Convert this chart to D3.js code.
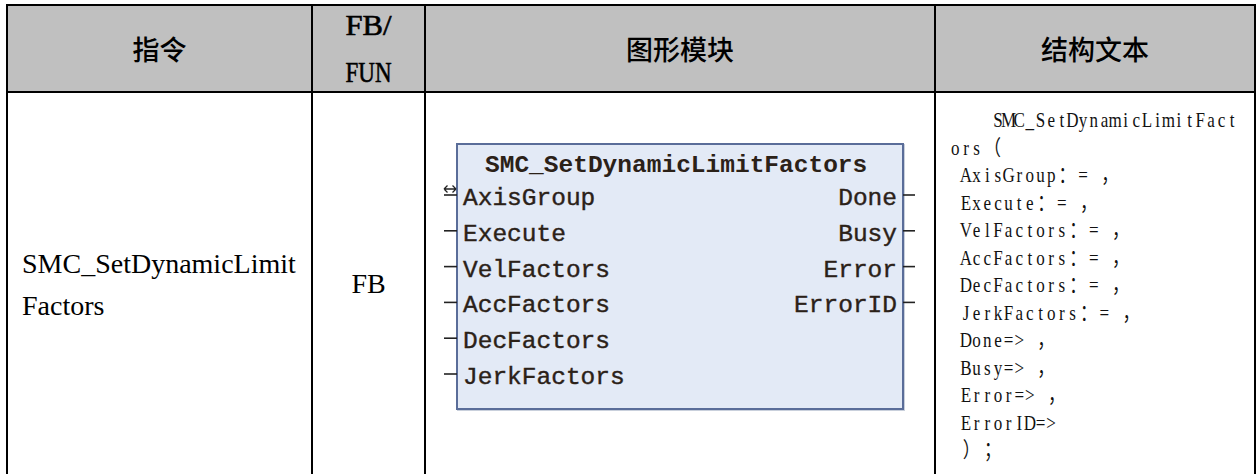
<!DOCTYPE html>
<html>
<head>
<meta charset="utf-8">
<script src="https://cdn.jsdelivr.net/npm/d3@7"></script>
<style>
  html, body { margin: 0; padding: 0; background: #ffffff; }
  svg { display: block; }
  .pre { white-space: pre; }
</style>
</head>
<body>
<div id="chart"></div>
<script>
// ---------- data ----------
const headerLabels = ["指令", "FB/|FUN", "图形模块", "结构文本"];
const instructionLines = ["SMC_SetDynamicLimit", "Factors"];
const fbType = ["FB"];
const blockTitle = ["SMC_SetDynamicLimitFactors"];
const blockInputs = ["AxisGroup", "Execute", "VelFactors", "AccFactors", "DecFactors", "JerkFactors"];
const blockOutputs = ["Done", "Busy", "Error", "ErrorID"];
const stLines = [
  "    SMC_SetDynamicLimitFact",
  "ors（",
  " AxisGroup：= ，",
  " Execute：= ，",
  " VelFactors：= ，",
  " AccFactors：= ，",
  " DecFactors：= ，",
  " JerkFactors：= ，",
  " Done=> ，",
  " Busy=> ，",
  " Error=> ，",
  " ErrorID=>",
  " ）；"
];

// ---------- layout ----------
const W = 1257, H = 474;
const colEdges = [7, 312, 425, 935, 1255];
const tableTop = 5, headerBottom = 92;

const svg = d3.select("#chart").append("svg")
  .attr("width", W).attr("height", H);

const colX = d3.scaleOrdinal().domain(d3.range(colEdges.length)).range(colEdges);
const colCenter = i => (colX(i) + colX(i + 1)) / 2;

// header background
svg.append("rect")
  .attr("x", colX(0)).attr("y", tableTop)
  .attr("width", colX(4) - colX(0)).attr("height", headerBottom - tableTop)
  .attr("fill", "#c0c0c0");

// header texts
headerLabels.forEach((lab, i) => {
  if (lab.includes("|")) {
    const parts = lab.split("|");
    const yb = d3.scaleLinear().domain([0, 1]).range([35, 82]);
    svg.selectAll(null).data(parts).enter().append("text")
      .attr("x", colCenter(i)).attr("y", (d, k) => yb(k))
      .attr("text-anchor", "middle")
      .attr("font-family", "'Liberation Serif', 'Times New Roman', serif")
      .attr("font-size", 29)
      .attr("stroke", "#000").attr("stroke-width", 0.6)
      .attr("textLength", 46).attr("lengthAdjust", "spacingAndGlyphs")
      .attr("fill", "#000")
      .text(d => d);
  } else {
    svg.append("text")
      .attr("x", colCenter(i)).attr("y", 60)
      .attr("text-anchor", "middle")
      .attr("font-family", "'Noto Sans CJK SC', sans-serif")
      .attr("font-size", 27).attr("font-weight", 500)
      .attr("fill", "#000")
      .text(lab);
  }
});

// instruction column text
const instrY = d3.scaleLinear().domain([0, 1]).range([273, 315]);
svg.selectAll(null).data(instructionLines).enter().append("text")
  .attr("x", 22).attr("y", (d, i) => instrY(i))
  .attr("font-family", "'Liberation Serif', 'Times New Roman', serif")
  .attr("font-size", 28).attr("fill", "#000")
  .text(d => d);

// FB column
svg.selectAll(null).data(fbType).enter().append("text")
  .attr("x", colCenter(1)).attr("y", 293)
  .attr("text-anchor", "middle")
  .attr("font-family", "'Liberation Serif', 'Times New Roman', serif")
  .attr("font-size", 28).attr("fill", "#000")
  .text(d => d);

// ---------- function block graphic ----------
const bx = 457, by = 144, bw = 446, bh = 265;
const g = svg.append("g");
g.append("rect").attr("x", bx + 1).attr("y", by + 1).attr("width", bw).attr("height", bh)
  .attr("fill", "none").attr("stroke", "#c9d0dc").attr("stroke-width", 2);
g.append("rect").attr("x", bx).attr("y", by).attr("width", bw).attr("height", bh)
  .attr("fill", "#e3eaf6").attr("stroke", "#5a6d99").attr("stroke-width", 2);

const fbFont = "'Liberation Mono', 'Courier New', monospace";
const txtCol = "#2b2118";

g.selectAll(null).data(blockTitle).enter().append("text")
  .attr("x", 485).attr("y", 172)
  .attr("font-family", fbFont).attr("font-size", 24.5).attr("font-weight", "bold")
  .attr("fill", txtCol)
  .text(d => d);

const pinY = d3.scaleLinear().domain([0, 1]).range([205, 240.8]);

g.selectAll(".in").data(blockInputs).enter().append("text")
  .attr("x", 463).attr("y", (d, i) => pinY(i))
  .attr("font-family", fbFont).attr("font-size", 24.5)
  .attr("fill", txtCol).attr("stroke", txtCol).attr("stroke-width", 0.4)
  .text(d => d);

g.selectAll(".inpin").data(blockInputs).enter().append("line")
  .attr("x1", 444).attr("x2", bx)
  .attr("y1", (d, i) => pinY(i) - 10).attr("y2", (d, i) => pinY(i) - 10)
  .attr("stroke", "#222").attr("stroke-width", 1.6);

// in-out marker for first input
const ay = pinY(0) - 16;
g.append("path")
  .attr("d", `M444,${ay} L456,${ay} M444,${ay} l3.5,-3.5 M444,${ay} l3.5,3.5 M456,${ay} l-3.5,-3.5 M456,${ay} l-3.5,3.5`)
  .attr("stroke", "#222").attr("stroke-width", 1.3).attr("fill", "none");

g.selectAll(".out").data(blockOutputs).enter().append("text")
  .attr("x", bx + bw - 6).attr("y", (d, i) => pinY(i))
  .attr("text-anchor", "end")
  .attr("font-family", fbFont).attr("font-size", 24.5)
  .attr("fill", txtCol).attr("stroke", txtCol).attr("stroke-width", 0.4)
  .text(d => d);

g.selectAll(".outpin").data(blockOutputs).enter().append("line")
  .attr("x1", bx + bw).attr("x2", bx + bw + 12)
  .attr("y1", (d, i) => pinY(i) - 10).attr("y2", (d, i) => pinY(i) - 10)
  .attr("stroke", "#222").attr("stroke-width", 1.6);

// ---------- structured text column (monospaced cells, SimSun-like) ----------
const stX0 = 950, cellW = 10.65, sx = 0.8;
const stY = d3.scaleLinear().domain([0, stLines.length - 1]).range([127, 457]);
const isWide = ch => /[\u2E80-\uFFEF]/.test(ch);
function cellCenters(str) {
  let c = 0;
  return Array.from(str).map(ch => {
    const n = isWide(ch) ? 2 : 1;
    const cx = stX0 + (c + n / 2) * cellW;
    c += n;
    return (cx / sx).toFixed(2);
  }).join(" ");
}
svg.selectAll(".st").data(stLines).enter().append("text")
  .attr("class", "pre")
  .attr("transform", (d, i) => `translate(0,${stY(i)}) scale(${sx},1)`)
  .attr("x", d => cellCenters(d)).attr("y", 0)
  .attr("text-anchor", "middle")
  .attr("font-family", "'Liberation Serif', 'Noto Sans CJK SC', serif")
  .attr("font-size", 21.3)
  .attr("fill", "#111")
  .text(d => d);

// ---------- grid lines ----------
svg.append("line").attr("x1", colX(0) - 1).attr("x2", colX(4) + 1)
  .attr("y1", tableTop).attr("y2", tableTop).attr("stroke", "#000").attr("stroke-width", 2);
svg.append("line").attr("x1", colX(0) - 1).attr("x2", colX(4) + 1)
  .attr("y1", headerBottom).attr("y2", headerBottom).attr("stroke", "#000").attr("stroke-width", 2);
svg.selectAll(".vline").data(colEdges).enter().append("line")
  .attr("x1", d => d).attr("x2", d => d)
  .attr("y1", tableTop - 1).attr("y2", H)
  .attr("stroke", "#000").attr("stroke-width", 2);
</script>
</body>
</html>
